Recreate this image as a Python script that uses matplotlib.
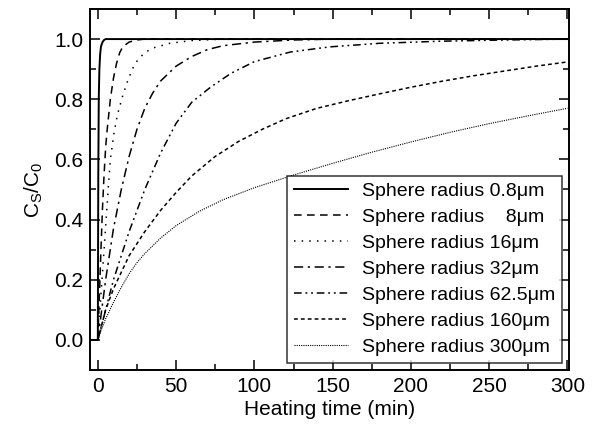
import matplotlib
matplotlib.use("Agg")
import matplotlib.pyplot as plt
from matplotlib.ticker import MultipleLocator, FormatStrFormatter

plt.rcParams['font.family'] = ['Liberation Sans', 'DejaVu Sans']
plt.rcParams['mathtext.fontset'] = 'custom'
plt.rcParams['mathtext.rm'] = 'Liberation Sans'

# curves, heating time (min) vs C_S/C_0
t_08 = [-5, 0, 0.3, 0.6, 1, 1.5, 2, 3, 4, 5, 300]
c_08 = [0, 0, 0.55, 0.8, 0.9, 0.95, 0.975, 0.99, 0.997, 1, 1]

t_8 = [0, 1, 2, 3, 4, 5, 6, 7, 8, 10, 12, 14, 16, 20, 25, 30, 300]
c_8 = [0, 0.15, 0.3, 0.44, 0.55, 0.64, 0.7, 0.75, 0.8, 0.87, 0.92, 0.955, 0.975, 0.99, 0.997, 1, 1]

t_16 = [0, 2, 4, 6.6, 8, 10.4, 12.6, 15.8, 19, 22, 25.4, 30, 35, 46, 60, 80, 300]
c_16 = [0, 0.15, 0.3, 0.5, 0.6, 0.69, 0.75, 0.81, 0.86, 0.9, 0.93, 0.955, 0.97, 0.986, 0.995, 1, 1]

t_32 = [0, 5, 10, 15, 20, 25, 30, 35, 40, 50, 60, 70, 80, 100, 125, 150, 300]
c_32 = [0, 0.2, 0.37, 0.5, 0.61, 0.7, 0.77, 0.82, 0.86, 0.91, 0.942, 0.965, 0.978, 0.99, 0.997, 1, 1]

t_625 = [0, 10, 20, 30, 40, 50, 60, 72, 85, 100, 123, 148, 180, 220, 260, 300]
c_625 = [0, 0.2, 0.36, 0.5, 0.62, 0.72, 0.79, 0.84, 0.886, 0.925, 0.957, 0.974, 0.986, 0.993, 0.997, 1]

t_160 = [0, 5, 10, 20, 30, 40, 50, 60, 75, 90, 105, 120, 140, 160, 180, 200, 220, 240, 260, 280, 300]
c_160 = [0, 0.1, 0.17, 0.28, 0.36, 0.43, 0.49, 0.545, 0.61, 0.66, 0.7, 0.735, 0.77, 0.795,
         0.818, 0.84, 0.86, 0.878, 0.894, 0.91, 0.924]

t_300 = [0, 2, 5, 10, 15, 20, 25, 30, 40, 50, 65, 80, 100, 125, 150, 175, 200, 225, 250, 275, 300]
c_300 = [0, 0.03, 0.07, 0.125, 0.175, 0.22, 0.257, 0.287, 0.338, 0.38, 0.428, 0.466, 0.506, 0.548,
         0.587, 0.624, 0.658, 0.69, 0.719, 0.745, 0.77]

labels = ['Sphere radius 0.8\u03bcm', 'Sphere radius    8\u03bcm', 'Sphere radius 16\u03bcm',
          'Sphere radius 32\u03bcm', 'Sphere radius 62.5\u03bcm', 'Sphere radius 160\u03bcm',
          'Sphere radius 300\u03bcm']

fig = plt.figure(figsize=(5.94, 4.28), dpi=100)
ax = fig.add_axes([0.1515, 0.1355, 0.8065, 0.8435])

ax.plot(t_08, c_08, color='black', lw=1.4, ls='-', label=labels[0])
ax.plot(t_8, c_8, color='black', lw=1.1, ls=(0, (5, 3.5)), label=labels[1])
ax.plot(t_16, c_16, color='black', lw=1.1, ls=(0, (1, 4)), label=labels[2])
ax.plot(t_32, c_32, color='black', lw=1.1, ls=(0, (6, 3, 1.5, 3)), label=labels[3])
ax.plot(t_625, c_625, color='black', lw=1.1, ls=(0, (5, 2.5, 1.2, 2.5, 1.2, 2.5)), label=labels[4])
ax.plot(t_160, c_160, color='black', lw=1.1, ls=(0, (2.5, 2)), label=labels[5])
ax.plot(t_300, c_300, color='black', lw=0.8, ls=(0, (1, 1)), label=labels[6])

ax.set_xlim(-5, 301)
ax.set_ylim(-0.1, 1.1)
ax.xaxis.set_major_locator(MultipleLocator(50))
ax.xaxis.set_minor_locator(MultipleLocator(25))
ax.yaxis.set_major_locator(MultipleLocator(0.2))
ax.yaxis.set_minor_locator(MultipleLocator(0.1))
ax.yaxis.set_major_formatter(FormatStrFormatter('%.1f'))
ax.tick_params(which='both', direction='in', top=True, right=True, labelsize=15, width=1.1)
ax.tick_params(which='major', length=7, pad=5)
ax.tick_params(which='minor', length=4)
for s in ax.spines.values():
    s.set_linewidth(1.4)

ax.set_xlabel('Heating time (min)', fontsize=15, labelpad=3)
ax.set_ylabel(r'C$_\mathregular{S}$/C$_\mathregular{0}$', fontsize=15, labelpad=6)

leg = ax.legend(loc='lower right', fontsize=14, frameon=True, fancybox=False,
                edgecolor='black', handlelength=2.8, handletextpad=0.7,
                labelspacing=0.43, borderpad=0.35, borderaxespad=0,
                bbox_to_anchor=(0.985, 0.02))
leg.get_frame().set_linewidth(1.1)

fig.savefig('out.png', dpi=100)
